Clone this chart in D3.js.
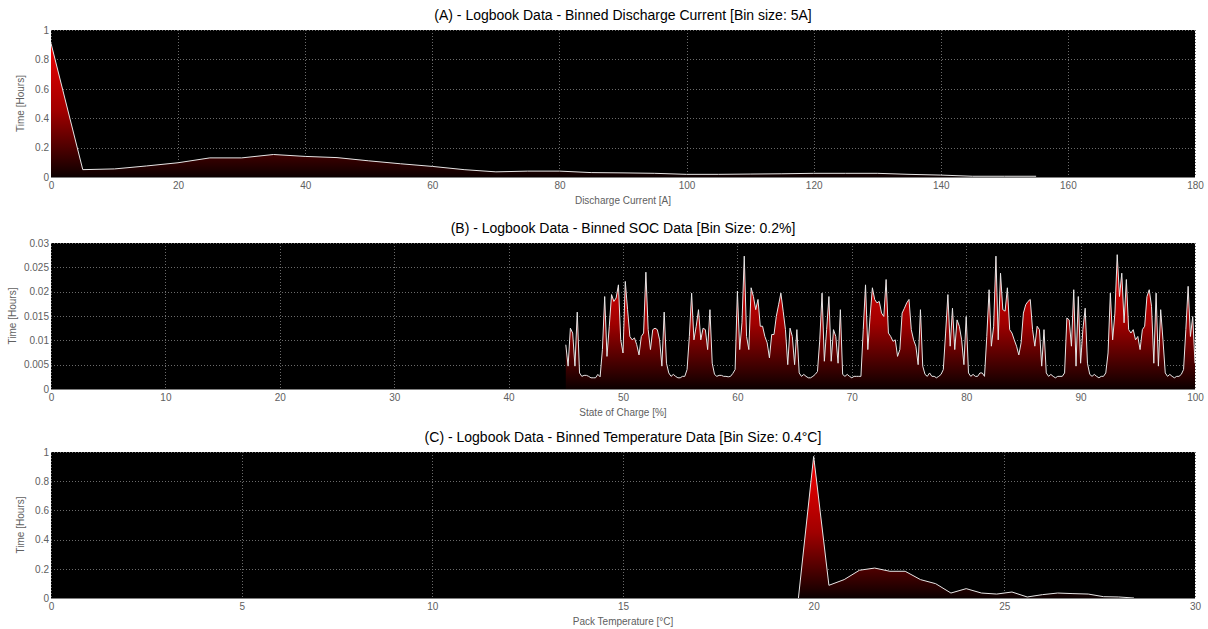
<!DOCTYPE html>
<html>
<head>
<meta charset="utf-8">
<script src="https://cdn.jsdelivr.net/npm/d3@7"></script>
<style>
body { margin: 0; background: #fff; }
text { font-family: "Liberation Sans", Arial, sans-serif; }
</style>
</head>
<body>
<div id="chart"></div>
<script>
var width = 1208, height = 629;

// binned data
var currentStart = 0, currentBin = 5;
var currentHours = [0.91, 0.05, 0.055, 0.075, 0.097, 0.13, 0.13, 0.153, 0.14, 0.132, 0.11, 0.09, 0.072, 0.05, 0.035, 0.04,
    0.04, 0.03, 0.028, 0.025, 0.018, 0.018, 0.02, 0.022, 0.025, 0.025, 0.025, 0.018, 0.013, 0.005, 0.005, 0.005];

var socStart = 45, socBin = 0.2;
var socHours = [
    0.0091, 0.0047, 0.0125, 0.0115, 0.0047, 0.0158, 0.0033, 0.0026, 0.0028, 0.0028,
    0.0026, 0.0023, 0.0023, 0.0023, 0.003, 0.0025, 0.0081, 0.019, 0.0067, 0.0129,
    0.0194, 0.018, 0.0187, 0.0214, 0.0101, 0.0074, 0.0221, 0.0163, 0.0108, 0.0101,
    0.0105, 0.0091, 0.007, 0.0108, 0.0115, 0.024, 0.0122, 0.0081, 0.0122, 0.0125,
    0.0122, 0.0101, 0.0047, 0.0158, 0.0053, 0.0033, 0.0026, 0.003, 0.0026, 0.0023,
    0.0023, 0.0026, 0.0026, 0.004, 0.0108, 0.0197, 0.0101, 0.0129, 0.0163, 0.0101,
    0.0125, 0.0122, 0.0081, 0.0163, 0.0053, 0.003, 0.0026, 0.0028, 0.0028, 0.0026,
    0.0026, 0.0025, 0.0026, 0.0032, 0.004, 0.0201, 0.0081, 0.0136, 0.0273, 0.0108,
    0.0081, 0.0208, 0.019, 0.0163, 0.0184, 0.0129, 0.0129, 0.0108, 0.0095, 0.0064,
    0.0112, 0.0112, 0.0149, 0.0173, 0.0197, 0.016, 0.0122, 0.005, 0.0125, 0.0108,
    0.005, 0.0122, 0.0033, 0.0026, 0.003, 0.0026, 0.0023, 0.0023, 0.0026, 0.003,
    0.0036, 0.0101, 0.0197, 0.0057, 0.0122, 0.019, 0.0057, 0.0122, 0.0108, 0.0053,
    0.0163, 0.003, 0.0026, 0.003, 0.0026, 0.0023, 0.0026, 0.0026, 0.0026, 0.0026,
    0.0122, 0.0214, 0.0081, 0.0149, 0.0208, 0.0184, 0.0177, 0.018, 0.0156, 0.0149,
    0.0225, 0.0115, 0.0108, 0.0098, 0.0101, 0.0067, 0.0081, 0.0156, 0.0166, 0.0177,
    0.0184, 0.0122, 0.0101, 0.0088, 0.005, 0.0163, 0.0047, 0.003, 0.0026, 0.0033,
    0.0026, 0.0026, 0.0023, 0.0026, 0.003, 0.004, 0.0115, 0.0194, 0.0088, 0.0166,
    0.0081, 0.0142, 0.0129, 0.0101, 0.005, 0.0149, 0.0033, 0.0026, 0.003, 0.0026,
    0.0026, 0.0033, 0.0033, 0.0026, 0.0108, 0.0204, 0.0088, 0.0129, 0.0273, 0.0101,
    0.0238, 0.0163, 0.016, 0.0208, 0.0122, 0.0115, 0.0101, 0.0088, 0.007, 0.0095,
    0.0156, 0.0173, 0.018, 0.0184, 0.0122, 0.0088, 0.0129, 0.0122, 0.0047, 0.0122,
    0.0033, 0.0026, 0.003, 0.0026, 0.0023, 0.0026, 0.0026, 0.0026, 0.0033, 0.0146,
    0.0142, 0.0088, 0.0204, 0.0047, 0.019, 0.0053, 0.0122, 0.0166, 0.0053, 0.003,
    0.0026, 0.003, 0.0026, 0.0023, 0.0026, 0.0026, 0.0033, 0.0074, 0.0197, 0.0101,
    0.0156, 0.0276, 0.019, 0.0238, 0.0136, 0.0225, 0.0122, 0.0115, 0.0122, 0.0101,
    0.0108, 0.0081, 0.0122, 0.0129, 0.019, 0.0204, 0.017, 0.0053, 0.0197, 0.0047,
    0.0163, 0.0101, 0.0033, 0.0026, 0.003, 0.0026, 0.0023, 0.0026, 0.0026, 0.003,
    0.004, 0.0122, 0.0211, 0.0108, 0.0149, 0.0053];

var tempStart = 19.6, tempBin = 0.4;
var tempHours = [0, 0.97, 0.087, 0.126, 0.19, 0.205, 0.183, 0.183, 0.126, 0.098, 0.034, 0.064, 0.034, 0.027,
    0.041, 0.007, 0.023, 0.034, 0.03, 0.027, 0.009, 0.007, 0];

var currentTicks = [0, 20, 40, 60, 80, 100, 120, 140, 160, 180];
var socTicks = [0, 10, 20, 30, 40, 50, 60, 70, 80, 90, 100];
var tempTicks = [0, 5, 10, 15, 20, 25, 30];
var hourTicks = [0, 0.2, 0.4, 0.6, 0.8, 1];
var socHourTicks = [0, 0.005, 0.01, 0.015, 0.02, 0.025, 0.03];

var panels = [
    {id: 'a', title: '(A) - Logbook Data - Binned Discharge Current [Bin size: 5A]', xLabel: 'Discharge Current [A]',
     start: currentStart, bin: currentBin, values: currentHours, xMax: 180, yMax: 1, xTicks: currentTicks, yTicks: hourTicks,
     top: 30, bottom: 177, yLabelX: 24},
    {id: 'b', title: '(B) - Logbook Data - Binned SOC Data [Bin Size: 0.2%]', xLabel: 'State of Charge [%]',
     start: socStart, bin: socBin, values: socHours, xMax: 100, yMax: 0.03, xTicks: socTicks, yTicks: socHourTicks,
     top: 243, bottom: 389, yLabelX: 16},
    {id: 'c', title: '(C) - Logbook Data - Binned Temperature Data [Bin Size: 0.4\u00b0C]', xLabel: 'Pack Temperature [\u00b0C]',
     start: tempStart, bin: tempBin, values: tempHours, xMax: 30, yMax: 1, xTicks: tempTicks, yTicks: hourTicks,
     top: 452, bottom: 598, yLabelX: 24}
];

var left = 51, right = 1195;
var svg = d3.select('#chart').append('svg').attr('width', width).attr('height', height);
var defs = svg.append('defs');

panels.forEach(function (p) {
    var x = d3.scaleLinear().domain([0, p.xMax]).range([left, right]);
    var y = d3.scaleLinear().domain([0, p.yMax]).range([p.bottom, p.top]);
    var pts = p.values.map((v, i) => ({x: p.start + i * p.bin, y: v}));

    var grad = defs.append('linearGradient').attr('id', 'grad-' + p.id)
        .attr('gradientUnits', 'userSpaceOnUse').attr('x1', 0).attr('x2', 0).attr('y1', p.top).attr('y2', p.bottom);
    grad.append('stop').attr('offset', 0).attr('stop-color', '#ff0000');
    grad.append('stop').attr('offset', 0.55).attr('stop-color', '#a00000');
    grad.append('stop').attr('offset', 1).attr('stop-color', '#0c0000');

    defs.append('clipPath').attr('id', 'clip-' + p.id).append('rect')
        .attr('x', left).attr('y', p.top).attr('width', right - left).attr('height', p.bottom - p.top);

    svg.append('rect').attr('x', left).attr('y', p.top).attr('width', right - left).attr('height', p.bottom - p.top).attr('fill', '#000');

    // dotted grid
    var grid = svg.append('g').attr('stroke', '#6a6a6a').attr('stroke-dasharray', '1,2').attr('stroke-width', 1);
    grid.selectAll('.gx').data(p.xTicks).enter().append('line')
        .attr('x1', d => Math.round(x(d)) + 0.5).attr('x2', d => Math.round(x(d)) + 0.5).attr('y1', p.top).attr('y2', p.bottom);
    grid.selectAll('.gy').data(p.yTicks).enter().append('line')
        .attr('x1', left).attr('x2', right).attr('y1', d => Math.round(y(d)) + 0.5).attr('y2', d => Math.round(y(d)) + 0.5);

    var plot = svg.append('g').attr('clip-path', 'url(#clip-' + p.id + ')');
    plot.append('path').datum(pts).attr('fill', 'url(#grad-' + p.id + ')')
        .attr('d', d3.area().x(d => x(d.x)).y0(y(0)).y1(d => y(d.y)));
    plot.append('path').datum(pts).attr('fill', 'none').attr('stroke', '#e6e6e6').attr('stroke-width', 1)
        .attr('d', d3.line().x(d => x(d.x)).y(d => y(d.y)));

    svg.append('line').attr('x1', left).attr('x2', right).attr('y1', p.bottom + 0.5).attr('y2', p.bottom + 0.5).attr('stroke', '#808080');

    var xAxis = svg.append('g').attr('transform', `translate(0,${p.bottom})`)
        .call(d3.axisBottom(x).tickValues(p.xTicks).tickSize(0).tickPadding(5).tickFormat(d3.format('~g')));
    xAxis.select('.domain').remove();
    xAxis.selectAll('text').attr('fill', '#606060').style('font-size', '10px');

    var yAxis = svg.append('g').attr('transform', `translate(${left},0)`)
        .call(d3.axisLeft(y).tickValues(p.yTicks).tickSize(0).tickPadding(2).tickFormat(d3.format('~g')));
    yAxis.select('.domain').remove();
    yAxis.selectAll('text').attr('fill', '#606060').style('font-size', '10px');

    svg.append('text').attr('x', (left + right) / 2).attr('y', p.top - 10).attr('text-anchor', 'middle')
        .style('font-size', '14px').attr('fill', '#000').text(p.title);
    svg.append('text').attr('x', (left + right) / 2).attr('y', p.bottom + 27).attr('text-anchor', 'middle')
        .style('font-size', '10px').attr('fill', '#606060').text(p.xLabel);
    svg.append('text').attr('transform', `translate(${p.yLabelX},${(p.top + p.bottom) / 2})rotate(-90)`).attr('text-anchor', 'middle')
        .style('font-size', '10px').attr('fill', '#606060').text('Time [Hours]');
});
</script>
</body>
</html>
